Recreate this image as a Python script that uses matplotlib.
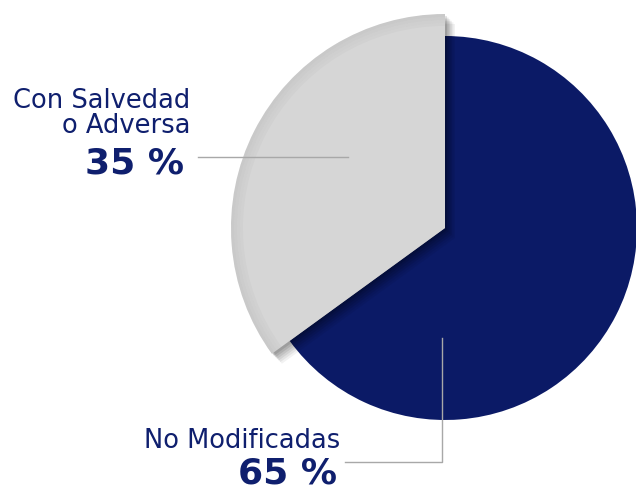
import matplotlib.pyplot as plt
from matplotlib.patches import Wedge

# ----------------------------------------
labels = ["Con Salvedad\no Adversa", "No Modificadas"]
values = [35, 65]
pct_labels = ["35 %", "65 %"]
colors = ["#d6d6d6", "#0b1a66"]
text_color = "#0f1f6e"
line_color = "#a8a8a8"

W, H = 636, 491
cx, cy = 445, H - 228
r_main = 192
r_out = 214

fig = plt.figure(figsize=(W / 100, H / 100), dpi=100)
ax = fig.add_axes([0, 0, 1, 1])

# ----------------------------------------
# Pie: the first slice is pulled out by giving it a larger radius
wedges, _ = ax.pie(values, colors=colors, startangle=90, counterclock=True,
                   center=(cx, cy), radius=r_main, frame=True,
                   wedgeprops=dict(linewidth=0))
ax.set_xlim(0, W)
ax.set_ylim(0, H)
ax.set_aspect("equal")
ax.axis("off")

gray = wedges[0]
gray.set_radius(r_out)
gray.set_zorder(5)

# soft shadow under the pulled-out slice
for i, a in enumerate([0.10, 0.09, 0.08, 0.07, 0.06, 0.05]):
    off = 2 + i * 1.6
    sh = Wedge((cx + off, cy - off), r_out, gray.theta1, gray.theta2,
               facecolor="black", alpha=a, linewidth=0, zorder=3)
    ax.add_patch(sh)

# darker inner rim on the gray slice
for i, a in enumerate([0.10, 0.07, 0.05, 0.03]):
    rim = Wedge((cx, cy), r_out - i * 3, gray.theta1, gray.theta2,
                width=3, facecolor="black", alpha=a * 0.6, linewidth=0, zorder=6)
    ax.add_patch(rim)

# ----------------------------------------
# Labels and leader lines
font = ["DejaVu Sans"]

ax.text(190, H - 133, labels[0], ha="right", va="baseline", fontsize=18.5,
        color=text_color, family=font, linespacing=0.95, multialignment="right")
ax.text(184, H - 173, pct_labels[0], ha="right", va="baseline", fontsize=26,
        fontweight="bold", color=text_color, family=font)
ax.plot([198, 348], [H - 157, H - 157], color=line_color, lw=1, zorder=7)

ax.text(340, H - 448, labels[1], ha="right", va="baseline", fontsize=18.5,
        color=text_color, family=font)
ax.text(337, H - 484, pct_labels[1], ha="right", va="baseline", fontsize=26,
        fontweight="bold", color=text_color, family=font)
ax.plot([345, 442, 442], [H - 462, H - 462, H - 338], color=line_color, lw=1,
        zorder=7)

fig.savefig("out.png", dpi=100)
